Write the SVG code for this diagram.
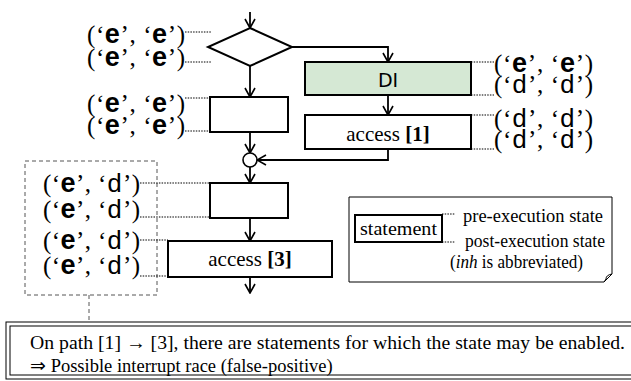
<svg xmlns="http://www.w3.org/2000/svg" width="631" height="381" viewBox="0 0 631 381">
<defs>
<marker id="ah" viewBox="-1 -6 11 12" refX="9" refY="0" markerWidth="11" markerHeight="12" markerUnits="userSpaceOnUse" orient="auto">
<path d="M0,-5 L9,0 L0,5" fill="none" stroke="#000" stroke-width="1.6"/>
</marker>
<style>
.box{fill:#fff;stroke:#000;stroke-width:2}
.di{fill:#d5e8d4;stroke:#000;stroke-width:2}
.con{fill:none;stroke:#000;stroke-width:1.8}
.lead{fill:none;stroke:#000;stroke-width:1.2;stroke-dasharray:1.5 1.2}
.st{font-family:"Liberation Serif",serif;font-size:25px;fill:#000}
.e{font-family:"Liberation Sans",sans-serif;font-weight:bold;font-size:27px}
.d{font-family:"Liberation Mono",monospace;font-size:26px}
.lbl{font-family:"Liberation Serif",serif;font-size:21px;fill:#000;text-anchor:middle}
.lg{font-family:"Liberation Serif",serif;font-size:18px;fill:#000}
.note{font-family:"Liberation Serif",serif;font-size:18.5px;fill:#000}
</style>
</defs>

<g id="connectors">
<path class="con" d="M250,12 V28" marker-end="url(#ah)"/>
<path class="con" d="M250,66 V97" marker-end="url(#ah)"/>
<path class="con" d="M292,47 H388 V62" marker-end="url(#ah)"/>
<path class="con" d="M388,95 V115" marker-end="url(#ah)"/>
<path class="con" d="M250,132 V153" marker-end="url(#ah)"/>
<path class="con" d="M388,149 V160 H257" marker-end="url(#ah)"/>
<path class="con" d="M250,167 V183" marker-end="url(#ah)"/>
<path class="con" d="M250,218 V241" marker-end="url(#ah)"/>
<path class="con" d="M250,277 V293" marker-end="url(#ah)"/>
<path d="M89,295 V322" fill="none" stroke="#555" stroke-width="1" stroke-dasharray="4 3"/>
</g>

<g id="decision">
<polygon class="box" points="250,28 292,47 250,66 208,47"/>
<path class="lead" d="M185,32 H211 M185,62 H211"/>
<text class="st" x="87" y="43" textLength="98" lengthAdjust="spacing">(‘<tspan class="e">e</tspan>’, ‘<tspan class="e">e</tspan>’)</text>
<text class="st" x="87" y="66" textLength="98" lengthAdjust="spacing">(‘<tspan class="e">e</tspan>’, ‘<tspan class="e">e</tspan>’)</text>
</g>

<g id="stmt-left">
<rect class="box" x="210" y="97" width="78" height="35"/>
<path class="lead" d="M185,98 H210 M185,131 H210"/>
<text class="st" x="87" y="112" textLength="98" lengthAdjust="spacing">(‘<tspan class="e">e</tspan>’, ‘<tspan class="e">e</tspan>’)</text>
<text class="st" x="87" y="134" textLength="98" lengthAdjust="spacing">(‘<tspan class="e">e</tspan>’, ‘<tspan class="e">e</tspan>’)</text>
</g>

<g id="di">
<rect class="di" x="305" y="62" width="166" height="33"/>
<text x="388" y="87" text-anchor="middle" font-family="DejaVu Sans, sans-serif" font-size="19" fill="#000">DI</text>
<path class="lead" d="M471,62 H494 M471,95 H494"/>
<text class="st" x="494" y="72" textLength="99" lengthAdjust="spacing">(‘<tspan class="e">e</tspan>’, ‘<tspan class="e">e</tspan>’)</text>
<text class="st" x="494" y="93" textLength="99" lengthAdjust="spacing">(‘<tspan class="d">d</tspan>’, ‘<tspan class="d">d</tspan>’)</text>
</g>

<g id="access1">
<rect class="box" x="305" y="115" width="166" height="34"/>
<text class="lbl" x="388" y="141">access <tspan font-weight="bold">[1]</tspan></text>
<path class="lead" d="M471,115 H494 M471,149 H494"/>
<text class="st" x="494" y="127" textLength="99" lengthAdjust="spacing">(‘<tspan class="d">d</tspan>’, ‘<tspan class="d">d</tspan>’)</text>
<text class="st" x="494" y="148" textLength="99" lengthAdjust="spacing">(‘<tspan class="d">d</tspan>’, ‘<tspan class="d">d</tspan>’)</text>
</g>

<g id="merge">
<circle cx="250" cy="160" r="7" fill="#fff" stroke="#000" stroke-width="1.6"/>
</g>

<g id="group-box">
<rect x="25" y="161" width="132" height="134" fill="none" stroke="#555" stroke-width="1" stroke-dasharray="4 3"/>
</g>

<g id="stmt-mid">
<rect class="box" x="210" y="183" width="78" height="35"/>
<path class="lead" d="M140,183 H210 M140,217 H210"/>
<text class="st" x="43" y="192" textLength="97" lengthAdjust="spacing">(‘<tspan class="e">e</tspan>’, ‘<tspan class="d">d</tspan>’)</text>
<text class="st" x="43" y="218" textLength="97" lengthAdjust="spacing">(‘<tspan class="e">e</tspan>’, ‘<tspan class="d">d</tspan>’)</text>
</g>

<g id="access3">
<rect class="box" x="168" y="241" width="164" height="36"/>
<text class="lbl" x="250" y="266">access <tspan font-weight="bold">[3]</tspan></text>
<path class="lead" d="M140,240 H168 M140,276 H168"/>
<text class="st" x="43" y="249" textLength="97" lengthAdjust="spacing">(‘<tspan class="e">e</tspan>’, ‘<tspan class="d">d</tspan>’)</text>
<text class="st" x="43" y="274" textLength="97" lengthAdjust="spacing">(‘<tspan class="e">e</tspan>’, ‘<tspan class="d">d</tspan>’)</text>
</g>

<g id="legend">
<path d="M349,197 H612 V274 L604,282 H349 Z" fill="#fff" stroke="#000" stroke-width="1"/>
<path d="M612,274 Q606,275 606,279 L604,282" fill="none" stroke="#000" stroke-width="1"/>
<rect x="355" y="215" width="87" height="27" fill="#fff" stroke="#000" stroke-width="2"/>
<text class="lg" x="360" y="235" textLength="77" lengthAdjust="spacingAndGlyphs">statement</text>
<path class="lead" d="M442,214 H455 M442,242 H455"/>
<text class="lg" x="463" y="222" textLength="140" lengthAdjust="spacingAndGlyphs">pre-execution state</text>
<text class="lg" x="465" y="247" textLength="140" lengthAdjust="spacingAndGlyphs">post-execution state</text>
<text class="lg" x="450" y="268" textLength="133" lengthAdjust="spacingAndGlyphs">(<tspan font-style="italic">inh</tspan> is abbreviated)</text>
</g>

<g id="note">
<rect x="6" y="322" width="640" height="57" fill="#fff" stroke="#000" stroke-width="1"/>
<rect x="10" y="326" width="640" height="49" fill="#fff" stroke="#000" stroke-width="1"/>
<text class="note" x="30" y="349" textLength="595" lengthAdjust="spacingAndGlyphs">On path [1] → [3], there are statements for which the state may be enabled.</text>
<text class="note" x="30" y="372">⇒  Possible interrupt race (false-positive)</text>
</g>
</svg>
